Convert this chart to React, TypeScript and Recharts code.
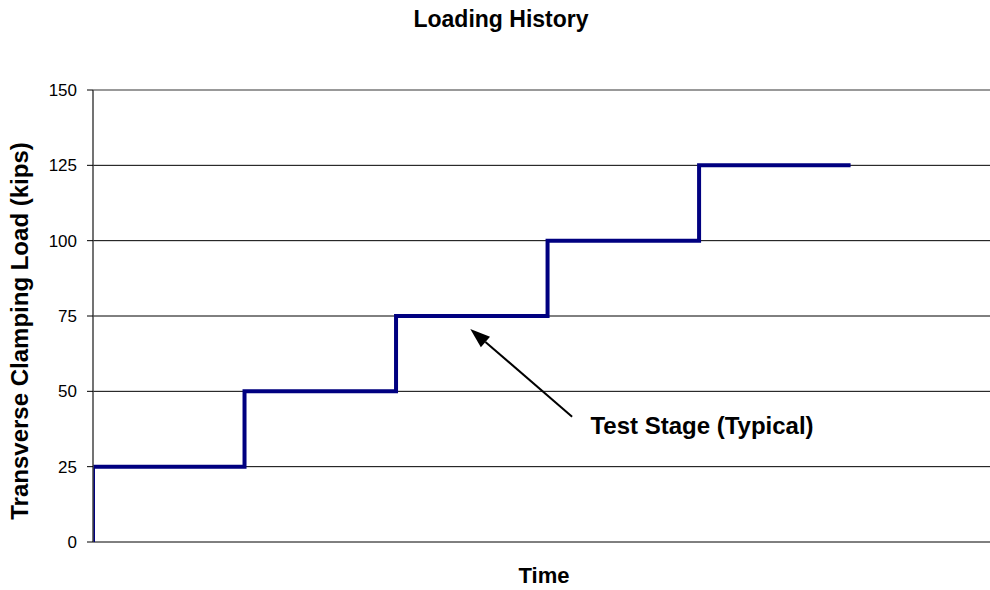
import React from 'react';
import { LineChart, Line, XAxis, YAxis, CartesianGrid, ReferenceLine, ReferenceDot } from 'recharts';

const times = [0, 0, 1, 2, 3, 4, 5];
const loads = [0, 25, 50, 75, 100, 125, 125];
const yTicks = [0, 25, 50, 75, 100, 125, 150];
const arrowTail = { x: 3.162, y: 41.6 };
const arrowTip = { x: 2.49, y: 70.7 };
const annotation = { x: 3.283, y: 35.8, text: 'Test Stage (Typical)' };
const titleText = 'Loading History';
const xLabel = 'Time';
const yLabel = 'Transverse Clamping Load (kips)';

const data = times.map((t, i) => ({ t, load: loads[i] }));

const FONT = '"Liberation Sans", Arial, sans-serif';

const ArrowShape = (props: any) => {
  const { x1, y1, x2, y2 } = props;
  if ([x1, y1, x2, y2].some((v) => typeof v !== 'number' || isNaN(v))) return null;
  const dx = x2 - x1;
  const dy = y2 - y1;
  const len = Math.sqrt(dx * dx + dy * dy);
  const ux = dx / len;
  const uy = dy / len;
  const headLen = 20;
  const headW = 7;
  const bx = x2 - ux * headLen;
  const by = y2 - uy * headLen;
  const px = -uy * headW;
  const py = ux * headW;
  return (
    <g>
      <line x1={x1} y1={y1} x2={bx} y2={by} stroke="#000" strokeWidth={2} />
      <polygon points={`${x2},${y2} ${bx + px},${by + py} ${bx - px},${by - py}`} fill="#000" />
    </g>
  );
};

const AnnotationText = (props: any) => {
  const { cx, cy } = props;
  return (
    <text x={cx} y={cy} fontFamily={FONT} fontWeight="bold" fontSize={24} fill="#000" textAnchor="start">
      {annotation.text}
    </text>
  );
};

export default function App() {
  return (
    <div style={{ position: 'absolute', left: 0, top: 0, width: 990, height: 590, background: '#fff' }}>
      <LineChart
        width={990}
        height={590}
        data={data}
        margin={{ top: 90, right: 0, bottom: 48, left: 0 }}
      >
        <CartesianGrid vertical={false} stroke="#000" strokeWidth={1} />
        <XAxis
          dataKey="t"
          type="number"
          domain={[0, 5.92]}
          allowDataOverflow
          height={0}
          tick={false}
          tickLine={false}
          axisLine={{ stroke: '#777', strokeWidth: 2 }}
        />
        <YAxis
          type="number"
          domain={[0, 150]}
          ticks={yTicks}
          width={93}
          tickSize={6}
          tickMargin={10}
          interval={0}
          tick={{ fill: '#000', fontSize: 17, fontFamily: FONT }}
          tickLine={{ stroke: '#000' }}
          axisLine={{ stroke: '#444', strokeWidth: 1.5 }}
        />
        <ReferenceLine y={150} stroke="#999" strokeWidth={2} />
        <Line
          type="stepAfter"
          dataKey="load"
          stroke="#000080"
          strokeWidth={4}
          dot={false}
          isAnimationActive={false}
        />
        <ReferenceLine
          segment={[arrowTail, arrowTip]}
          shape={ArrowShape}
          ifOverflow="visible"
        />
        <ReferenceDot x={annotation.x} y={annotation.y} r={0} shape={AnnotationText} ifOverflow="visible" />
      </LineChart>
      <svg
        width={990}
        height={590}
        style={{ position: 'absolute', left: 0, top: 0, pointerEvents: 'none' }}
      >
        <text x={501} y={27} textAnchor="middle" fontFamily={FONT} fontWeight="bold" fontSize={23} fill="#000">
          {titleText}
        </text>
        <text x={544} y={583} textAnchor="middle" fontFamily={FONT} fontWeight="bold" fontSize={22} fill="#000">
          {xLabel}
        </text>
        <text
          x={28}
          y={331}
          textAnchor="middle"
          transform="rotate(-90 28 331)"
          fontFamily={FONT}
          fontWeight="bold"
          fontSize={24}
          fill="#000"
        >
          {yLabel}
        </text>
      </svg>
    </div>
  );
}
